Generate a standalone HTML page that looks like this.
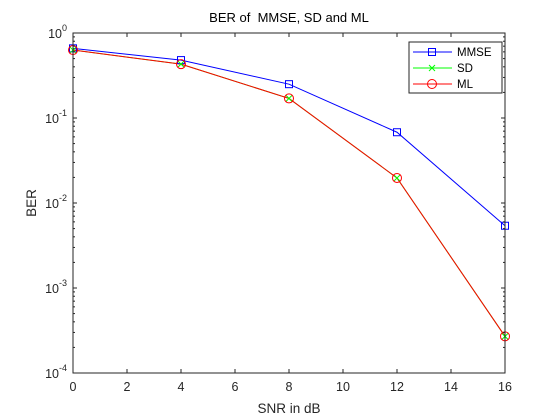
<!DOCTYPE html>
<html><head><meta charset="utf-8"><style>
body{margin:0;background:#fff;}
svg{display:block;font-family:"Liberation Sans",Arial,sans-serif;}
</style></head><body>
<svg id="chart" width="560" height="420">
<rect x="0" y="0" width="560" height="420" fill="#fff"/>
<rect x="73" y="33" width="432" height="340" fill="#fff" stroke="none"/>
<g id="grid"></g>
<g id="series"></g>
<rect x="73" y="33" width="432" height="340" fill="none" stroke="#262626" stroke-width="1"/>
<text x="289" y="22" text-anchor="middle" font-size="13" fill="#000" style="white-space:pre">BER of  MMSE, SD and ML</text>
<text x="289" y="413" text-anchor="middle" font-size="13.5" fill="#262626">SNR in dB</text>
<text x="36" y="203" text-anchor="middle" font-size="13.5" fill="#262626" transform="rotate(-90 36 203)">BER</text>
<g>
<rect x="409" y="42" width="93" height="51" fill="#fff" stroke="#262626" stroke-width="1"/>
<line x1="413" y1="52" x2="452" y2="52" stroke="#0000ff"/>
<rect x="428.5" y="48.5" width="7" height="7" fill="none" stroke="#0000ff"/>
<text x="457" y="56" font-size="11.5" fill="#000">MMSE</text>
<line x1="413" y1="68" x2="452" y2="68" stroke="#00ff00"/>
<path d="M429 65 L435 71 M435 65 L429 71" stroke="#00ff00"/>
<text x="457" y="72" font-size="11.5" fill="#000">SD</text>
<line x1="413" y1="84" x2="452" y2="84" stroke="#ff0000"/>
<circle cx="432" cy="84" r="4.5" fill="none" stroke="#ff0000"/>
<text x="457" y="88" font-size="11.5" fill="#000">ML</text>
</g>
</svg>
<script>
const snr = [0, 4, 8, 12, 16];
const mmse = [0.66, 0.48, 0.25, 0.068, 0.0054];
const sd = [0.63, 0.43, 0.17, 0.0197, 0.00027];
const ml = [0.63, 0.43, 0.17, 0.0197, 0.00027];
const xTicks = [0, 2, 4, 6, 8, 10, 12, 14, 16];
const yDecades = [0, -1, -2, -3, -4];
const NS = 'http://www.w3.org/2000/svg';
const X0 = 73, X1 = 505, Y0 = 33, Y1 = 373;
function xs(v){ return X0 + (v - 0) / 16 * (X1 - X0); }
function ys(v){ return Y0 + (0 - Math.log10(v)) / 4 * (Y1 - Y0); }
function mk(tag, attrs, parent){ const e = document.createElementNS(NS, tag); for (const k in attrs) e.setAttribute(k, attrs[k]); parent.appendChild(e); return e; }
const svg = document.getElementById('chart');
xTicks.forEach(t => {
  const x = xs(t);
  mk('line', {x1:x, y1:Y1, x2:x, y2:Y1-4, stroke:'#262626'}, svg);
  mk('line', {x1:x, y1:Y0, x2:x, y2:Y0+4, stroke:'#262626'}, svg);
  const tx = mk('text', {x:x, y:Y1+18, 'text-anchor':'middle', 'font-size':'12.5', fill:'#262626'}, svg);
  tx.textContent = t;
  
  
});
yDecades.forEach(d => {
  const y = ys(Math.pow(10, d));
  mk('line', {x1:X0, y1:y, x2:X0+4, y2:y, stroke:'#262626'}, svg);
  mk('line', {x1:X1, y1:y, x2:X1-4, y2:y, stroke:'#262626'}, svg);
  if (d > -4) for (let m = 2; m <= 9; m++) {
    const ym = ys(m * Math.pow(10, d - 1));
    mk('line', {x1:X0, y1:ym, x2:X0+2, y2:ym, stroke:'#262626'}, svg);
    mk('line', {x1:X1, y1:ym, x2:X1-2, y2:ym, stroke:'#262626'}, svg);
  }
  const tx = mk('text', {x:X0-6, y:y+5, 'text-anchor':'end', 'font-size':'12.5', fill:'#262626'}, svg);
  
  
  tx.appendChild(document.createTextNode('10'));
  const sup = mk('tspan', {dy:-7, 'font-size':'9'}, tx);
  sup.textContent = d;
});
const g = document.getElementById('series');
function drawLine(vals, color, name){
  const pts = snr.map((s,i) => xs(s) + ',' + ys(vals[i])).join(' ');
  const pl = mk('polyline', {points:pts, fill:'none', stroke:color, 'stroke-width':1}, g);
  
  
}
drawLine(mmse, '#0000ff', 'mmse');
drawLine(sd, '#00ff00', 'sd');
drawLine(ml, '#ff0000', 'ml');
snr.forEach((s,i) => {
  const x = xs(s);
  let y = ys(mmse[i]);
  const r = mk('rect', {x:x-3.5, y:y-3.5, width:7, height:7, fill:'none', stroke:'#0000ff'}, g);
  
  
  y = ys(sd[i]);
  const p = mk('path', {d:`M${x-3} ${y-3} L${x+3} ${y+3} M${x+3} ${y-3} L${x-3} ${y+3}`, stroke:'#00ff00'}, g);
  
  
  y = ys(ml[i]);
  const c = mk('circle', {cx:x, cy:y, r:4.5, fill:'none', stroke:'#ff0000'}, g);
  
  
});
</script>
</body></html>
